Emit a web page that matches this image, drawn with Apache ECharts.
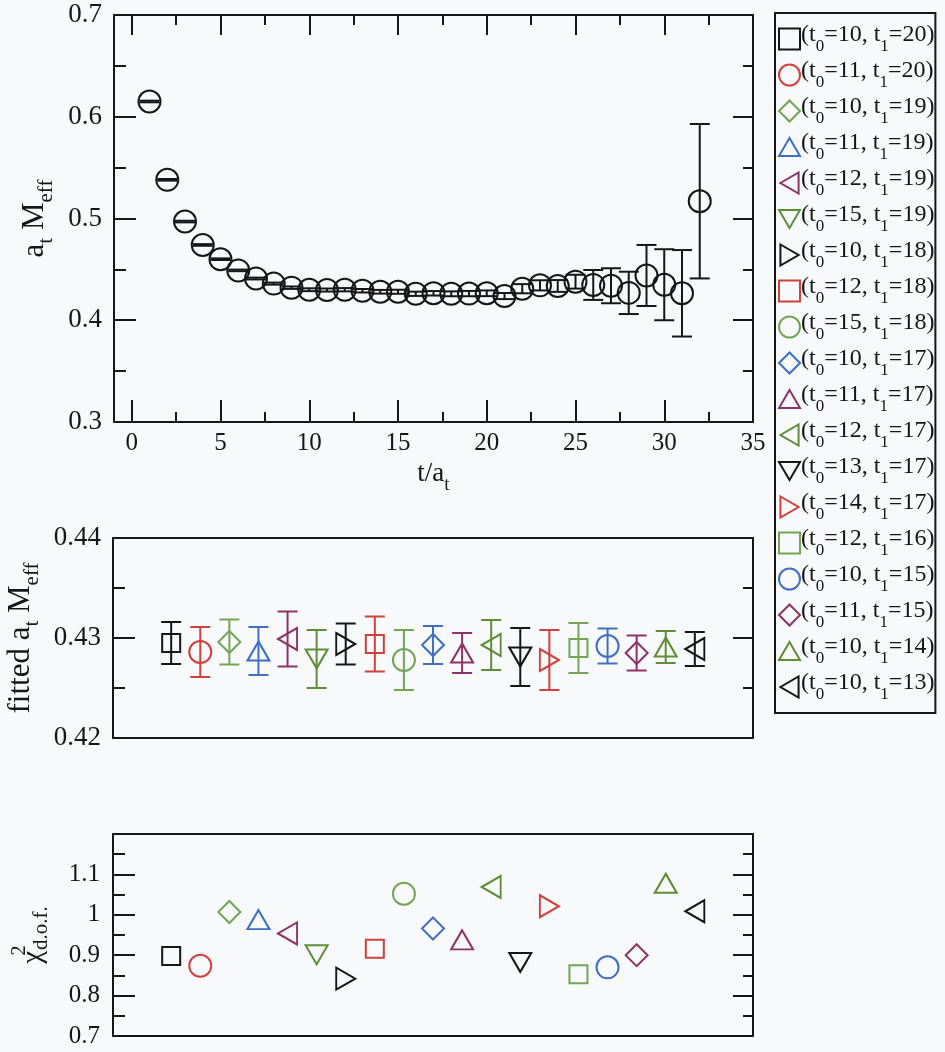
<!DOCTYPE html>
<html>
<head>
<meta charset="utf-8">
<script src="https://cdn.jsdelivr.net/npm/echarts@6/dist/echarts.min.js"></script>
<style>
html, body { margin: 0; padding: 0; background: #f7f9fb; }
#chart { width: 945px; height: 1052px; }
</style>
</head>
<body>
<div id="chart"></div>
<script>
// effective mass per time slice
const tSlices = [1, 2, 3, 4, 5, 6, 7, 8, 9, 10, 11, 12, 13, 14, 15, 16, 17, 18, 19, 20, 21, 22, 23, 24, 25, 26, 27, 28, 29, 30, 31, 32]
const meff = [0.615, 0.538, 0.497, 0.474, 0.460, 0.449, 0.441, 0.436, 0.432, 0.430, 0.4297, 0.430, 0.429, 0.428, 0.428, 0.426,
  0.4265, 0.426, 0.4262, 0.4265, 0.4238, 0.431, 0.4343, 0.4337, 0.4379, 0.4347, 0.4339, 0.4269, 0.444, 0.4349, 0.4265, 0.517]
const meffErr = [0.0008, 0.0008, 0.0008, 0.0008, 0.0008, 0.0008, 0.0009, 0.001, 0.0012, 0.0014, 0.0015, 0.0016, 0.0017, 0.0018, 0.002, 0.0021,
  0.0022, 0.0024, 0.0026, 0.0028, 0.003, 0.0045, 0.005, 0.0058, 0.0068, 0.0147, 0.0172, 0.0208, 0.030, 0.0349, 0.0425, 0.0759]

// fit windows (t0, t1), fitted mass and chi^2/dof
const fitT0 = [10, 11, 10, 11, 12, 15, 10, 12, 15, 10, 11, 12, 13, 14, 12, 10, 11, 10, 10]
const fitT1 = [20, 20, 19, 19, 19, 19, 18, 18, 18, 17, 17, 17, 17, 17, 16, 15, 15, 14, 13]
const fitPos = [2, 3, 4, 5, 6, 7, 8, 9, 10, 11, 12, 13, 14, 15, 16, 17, 18, 19, 20]
const fitMass = [0.4295, 0.4286, 0.4296, 0.4287, 0.4299, 0.4279, 0.4294, 0.4294, 0.4278, 0.4293,
  0.4285, 0.4293, 0.4281, 0.4278, 0.4290, 0.4292, 0.4285, 0.4291, 0.4289]
const fitMassErr = [0.0021, 0.0025, 0.00225, 0.0024, 0.00275, 0.0029, 0.00205, 0.00275, 0.003, 0.0019,
  0.002, 0.0025, 0.0029, 0.003, 0.0025, 0.00175, 0.00175, 0.0016, 0.0017]
const chi2 = [0.898, 0.874, 1.007, 0.988, 0.954, 0.901, 0.842, 0.916, 1.052, 0.966,
  0.938, 1.069, 0.882, 1.021, 0.853, 0.870, 0.900, 1.078, 1.009]

const xMajorTicks = [0, 5, 10, 15, 20, 25, 30, 35]
const xMinorTicks = [2.5, 7.5, 12.5, 17.5, 22.5, 27.5, 32.5]

// grace-like pens, cycling every 6 / 7
const palette = ['#151515', '#d0403c', '#74a556', '#3f6fc4', '#8e3366', '#5f8d38']
const markers = [
  { symbol: 'rect', size: [18, 18] },
  { symbol: 'circle', size: 22 },
  { symbol: 'diamond', size: [22, 22] },
  { symbol: 'path://M1,0 L2,1.73 L0,1.73 Z', size: [22, 19] },
  { symbol: 'path://M0,1 L1.73,0 L1.73,2 Z', size: [19, 22] },
  { symbol: 'path://M0,0 L2,0 L1,1.73 Z', size: [22, 19] },
  { symbol: 'path://M0,0 L1.73,1 L0,2 Z', size: [19, 22] }
]

const FONT = 'Liberation Serif'
const INK = '#161616'
const fitName = i => 'fit' + i
const colorOf = i => palette[i % 6]
const markOf = i => markers[i % 7]

function errorBars(capHalf, colorFn) {
  return function (params, api) {
    const x = api.value(0), y = api.value(1), e = api.value(2)
    const hi = api.coord([x, y + e])
    const lo = api.coord([x, y - e])
    const style = { stroke: colorFn(api.value(3)), lineWidth: 2, fill: null }
    return {
      type: 'group',
      children: [
        { type: 'line', shape: { x1: hi[0], y1: hi[1], x2: lo[0], y2: lo[1] }, style },
        { type: 'line', shape: { x1: hi[0] - capHalf, y1: hi[1], x2: hi[0] + capHalf, y2: hi[1] }, style },
        { type: 'line', shape: { x1: lo[0] - capHalf, y1: lo[1], x2: lo[0] + capHalf, y2: lo[1] }, style }
      ]
    }
  }
}

// axis pieces
const line = { show: true, onZero: false, lineStyle: { color: INK, width: 2 } }
const noLine = { show: false }
const tickStyle = { color: INK, width: 2 }
const lbl = { color: INK, fontFamily: FONT, fontSize: 27, margin: 12 }

function xAxisPair(grid, min, max, pos, majorLen, minorLen, labels) {
  return [
    {
      type: 'value', gridIndex: grid, min, max, position: pos,
      axisLine: line, splitLine: { show: false },
      axisTick: { show: true, inside: true, length: majorLen, lineStyle: tickStyle, customValues: xMajorTicks },
      axisLabel: labels ? { ...lbl, fontSize: 25, margin: 9, customValues: xMajorTicks } : { show: false }
    },
    {
      type: 'value', gridIndex: grid, min, max, position: pos,
      axisLine: noLine, splitLine: { show: false },
      axisTick: { show: true, inside: true, length: minorLen, lineStyle: tickStyle, customValues: xMinorTicks },
      axisLabel: { show: false }
    }
  ]
}

function bareX(grid, pos) {
  return {
    type: 'value', gridIndex: grid, min: 0, max: 22, position: pos,
    axisLine: line, splitLine: { show: false }, axisTick: { show: false }, axisLabel: { show: false }
  }
}

function yAxisPair(grid, min, max, interval, fmt, name, nameGap, rich) {
  const base = {
    type: 'value', gridIndex: grid, min, max, interval,
    axisLine: line, splitLine: { show: false }, minorSplitLine: { show: false }
  }
  return [
    {
      ...base, position: 'left',
      axisTick: { show: true, inside: true, length: 22, lineStyle: tickStyle },
      minorTick: { show: true, splitNumber: 2, length: 12, lineStyle: tickStyle },
      axisLabel: { ...lbl, formatter: fmt },
      name, nameLocation: 'middle', nameGap,
      nameTextStyle: { fontFamily: FONT, color: INK, rich }
    },
    {
      ...base, position: 'right',
      axisTick: { show: true, inside: true, length: 20, lineStyle: tickStyle },
      minorTick: { show: true, splitNumber: 2, length: 10, lineStyle: tickStyle },
      axisLabel: { show: false }
    }
  ]
}

// rich text pieces: main text top-aligned, subscripts bottom-aligned
const tok = (size, h, va) => ({ fontFamily: FONT, fontSize: size, color: INK, lineHeight: h, height: h, verticalAlign: va })
const yNameRich = { m: tok(31, 38, 'top'), s: tok(21, 15, 'bottom') }
const xNameRich = { m: tok(27, 34, 'top'), s: tok(19, 11, 'bottom') }
const chiRich = { m: tok(29, 48, 'top'), p: { ...tok(20, 19, 'top'), width: 1 }, s: tok(21, 33, 'bottom') }

const xAxis = [
  ...xAxisPair(0, -1, 35, 'bottom', 22, 10, true),
  ...xAxisPair(0, -1, 35, 'top', 20, 10, false),
  bareX(1, 'bottom'), bareX(1, 'top'),
  bareX(2, 'bottom'), bareX(2, 'top')
]
xAxis[0].name = '{m|t/a}{s|t}'
xAxis[0].nameLocation = 'middle'
xAxis[0].nameGap = 32
xAxis[0].nameTextStyle = { fontFamily: FONT, color: INK, rich: xNameRich }

const yAxis = [
  ...yAxisPair(0, 0.3, 0.7, 0.1, v => v.toFixed(1), '{m|a}{s|t}{m| M}{s|eff}', 58, yNameRich),
  ...yAxisPair(1, 0.42, 0.44, 0.01, v => v.toFixed(2), '{m|fitted a}{s|t}{m| M}{s|eff}', 62, yNameRich),
  ...yAxisPair(2, 0.7, 1.2, 0.1, v => (v > 1.15 ? '' : String(+v.toFixed(2))), '{m|χ}{p|2}{s|d.o.f.}', 52, chiRich)
]
yAxis[4].axisLabel.fontSize = 25
yAxis[4].axisLabel.margin = 13

const series = []

// top panel
series.push({
  type: 'custom', name: 'meffErr', xAxisIndex: 0, yAxisIndex: 0, silent: true,
  renderItem: errorBars(10, () => INK),
  data: tSlices.map((t, i) => [t, meff[i], meffErr[i], 0])
})
series.push({
  type: 'scatter', name: 'meff', xAxisIndex: 0, yAxisIndex: 0, silent: true,
  symbol: 'circle', symbolSize: 22,
  itemStyle: { color: 'rgba(0,0,0,0)', borderColor: INK, borderWidth: 2, opacity: 1 },
  data: tSlices.map((t, i) => [t, meff[i]])
})

// middle panel error bars
series.push({
  type: 'custom', name: 'fitErr', xAxisIndex: 4, yAxisIndex: 2, silent: true,
  renderItem: errorBars(10, colorOf),
  data: fitPos.map((x, i) => [x, fitMass[i], fitMassErr[i], i])
})

fitPos.forEach((x, i) => {
  const mk = markOf(i)
  const common = {
    type: 'scatter', name: fitName(i), silent: true,
    symbol: mk.symbol, symbolSize: mk.size,
    itemStyle: { color: 'rgba(0,0,0,0)', borderColor: colorOf(i), borderWidth: 2, opacity: 1 }
  }
  series.push({ ...common, xAxisIndex: 4, yAxisIndex: 2, data: [[x, fitMass[i]]] })
  series.push({ ...common, xAxisIndex: 6, yAxisIndex: 4, data: [[x, chi2[i]]] })
})

const legendRich = {
  m: { fontFamily: FONT, fontSize: 24, color: INK, lineHeight: 32, verticalAlign: 'top' },
  s: { fontFamily: FONT, fontSize: 17, color: INK, lineHeight: 17, verticalAlign: 'bottom' }
}

const option = {
  backgroundColor: '#f7f9fb',
  animation: false,
  textStyle: { fontFamily: FONT, color: INK },
  grid: [
    { left: 114, top: 15, width: 639, height: 407, outerBoundsMode: 'none' },
    { left: 113, top: 538, width: 640, height: 200, outerBoundsMode: 'none' },
    { left: 113, top: 834, width: 640, height: 202, outerBoundsMode: 'none' }
  ],
  xAxis,
  yAxis,
  legend: {
    orient: 'vertical', left: 775, top: 13,
    padding: [10, 1, 10, 3],
    itemWidth: 21, itemHeight: 21, itemGap: 4,
    borderColor: INK, borderWidth: 2, borderRadius: 0,
    selectedMode: false,
    data: fitPos.map((x, i) => ({
      name: fitName(i), icon: markOf(i).symbol,
      itemStyle: { color: 'rgba(0,0,0,0)', borderColor: colorOf(i), borderWidth: 2 }
    })),
    formatter: name => {
      const i = +name.slice(3)
      return `{m|(t}{s|0}{m|=${fitT0[i]}, t}{s|1}{m|=${fitT1[i]})}`
    },
    textStyle: { fontFamily: FONT, rich: legendRich, padding: [0, 0, 0, -4] }
  },
  series
}

const chart = echarts.init(document.getElementById('chart'), null, { renderer: 'canvas' })
chart.setOption(option)
</script>
</body>
</html>
